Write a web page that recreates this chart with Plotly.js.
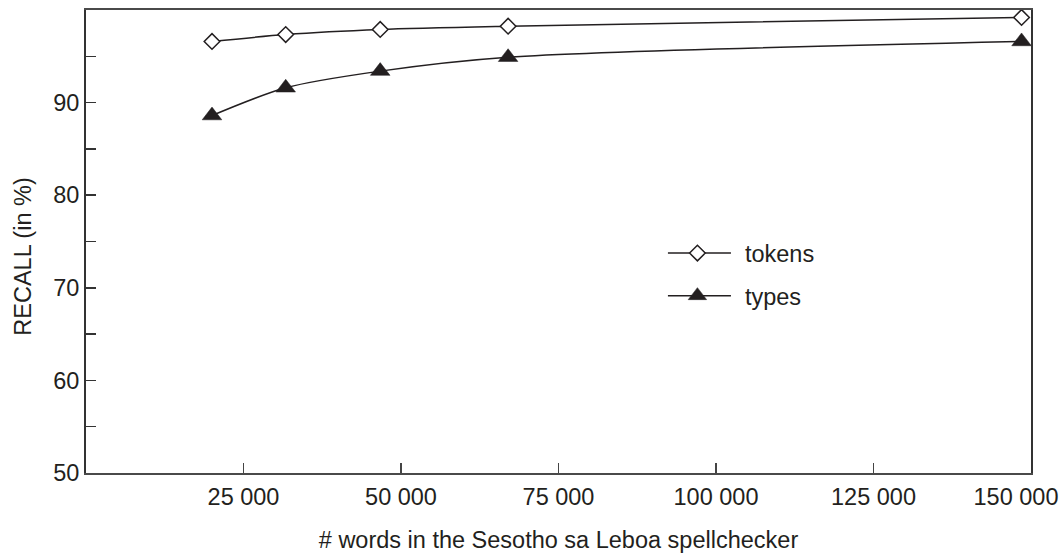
<!DOCTYPE html>
<html>
<head>
<meta charset="utf-8">
<script src="https://cdn.plot.ly/plotly-3.0.1.min.js"></script>
<style>
  html, body { margin: 0; padding: 0; background: #fff; }
  #chart { width: 1064px; height: 555px; }
</style>
</head>
<body>
<div id="chart"></div>
<script>
// ---- data ----
const wordCounts = [20000, 31700, 46700, 67000, 148500];
const tokensRecall = [96.6, 97.35, 97.9, 98.25, 99.2];
const typesRecall = [88.6, 91.6, 93.4, 94.9, 96.6];

const xTickVals = [25000, 50000, 75000, 100000, 125000, 150000];
const xTickText = ['25 000', '50 000', '75 000', '100 000', '125 000', '150 000'];
const yTickVals = [50, 55, 60, 65, 70, 75, 80, 85, 90, 95];
const yTickText = ['50', '', '60', '', '70', '', '80', '', '90', ''];

const ink = '#231f20';
const fontFamily = '"Liberation Sans", Arial, Helvetica, sans-serif';

const traces = [
  {
    x: wordCounts, y: tokensRecall, name: 'tokens', type: 'scatter', mode: 'lines+markers',
    line: { color: ink, width: 1.5, shape: 'spline', smoothing: 0.8 },
    marker: { symbol: 'diamond', size: 12, color: '#ffffff', line: { color: ink, width: 1.5 } },
    cliponaxis: false, legendgroup: 'a'
  },
  {
    x: wordCounts, y: typesRecall, name: 'types', type: 'scatter', mode: 'lines+markers',
    line: { color: ink, width: 1.5, shape: 'spline', smoothing: 0.8 },
    marker: { symbol: 'triangle-up', size: 17, color: ink, line: { color: ink, width: 0.5 } },
    cliponaxis: false, legendgroup: 'b'
  }
];

const layout = {
  width: 1064, height: 555,
  margin: { l: 86, r: 33, t: 10, b: 82 },
  paper_bgcolor: '#ffffff', plot_bgcolor: '#ffffff',
  font: { family: fontFamily, size: 23.5, color: ink },
  showlegend: true,
  legend: {
    x: 0.6158, xanchor: 'left', y: 0.522, yanchor: 'top',
    bgcolor: 'rgba(0,0,0,0)', borderwidth: 0,
    font: { family: fontFamily, size: 23.5, color: ink },
    tracegroupgap: 9, itemwidth: 67
  },
  xaxis: {
    range: [0, 150000], autorange: false,
    tickmode: 'array', tickvals: xTickVals, ticktext: xTickText,
    ticks: 'inside', ticklen: 10, tickwidth: 1.5, tickcolor: '#444',
    ticklabeloverflow: 'allow',
    showline: true, linecolor: '#4a4a4a', linewidth: 2, mirror: true,
    showgrid: false, zeroline: false,
    tickfont: { family: fontFamily, size: 23.5, color: ink },
    title: { text: '# words in the Sesotho sa Leboa spellchecker', standoff: 24,
             font: { family: fontFamily, size: 23.5, color: ink } },
    automargin: false
  },
  yaxis: {
    range: [50, 100], autorange: false,
    tickmode: 'array', tickvals: yTickVals, ticktext: yTickText,
    ticks: 'inside', ticklen: 10, tickwidth: 1.5, tickcolor: '#333',
    showline: true, linecolor: '#333', linewidth: 2, mirror: true,
    showgrid: false, zeroline: false,
    tickfont: { family: fontFamily, size: 23.5, color: ink },
    title: { text: 'RECALL (in %)', standoff: 15,
             font: { family: fontFamily, size: 23.5, color: ink } },
    automargin: false
  }
};

function prependShift(el, dx, dy) {
  const t = el.getAttribute('transform') || '';
  el.setAttribute('transform', 'translate(' + dx + ',' + dy + ') ' + t);
}

Plotly.newPlot('chart', traces, layout, { staticPlot: true, displayModeBar: false }).then(function (gd) {
  // keep the right-most tick label inside the page, as in the reference
  gd.querySelectorAll('.xtick text').forEach(function (t) {
    if (t.textContent.replace(/\s/g, '') === '150000') prependShift(t, -15, 0);
  });
  // wider gap between legend symbol and legend text: move symbols left
  gd.querySelectorAll('.legend .legendlines, .legend .legendsymbols, .legend .legendfill').forEach(function (g) {
    prependShift(g, -9, 0);
  });
  // x tick labels sit slightly lower in the reference
  gd.querySelectorAll('.xtick text').forEach(function (t) { prependShift(t, 0, 2); });
  // y-axis title sits a little below the plot centre in the reference
  const yt = gd.querySelector('.ytitle');
  if (yt) prependShift(yt, 0, 15);
});
</script>
</body>
</html>
